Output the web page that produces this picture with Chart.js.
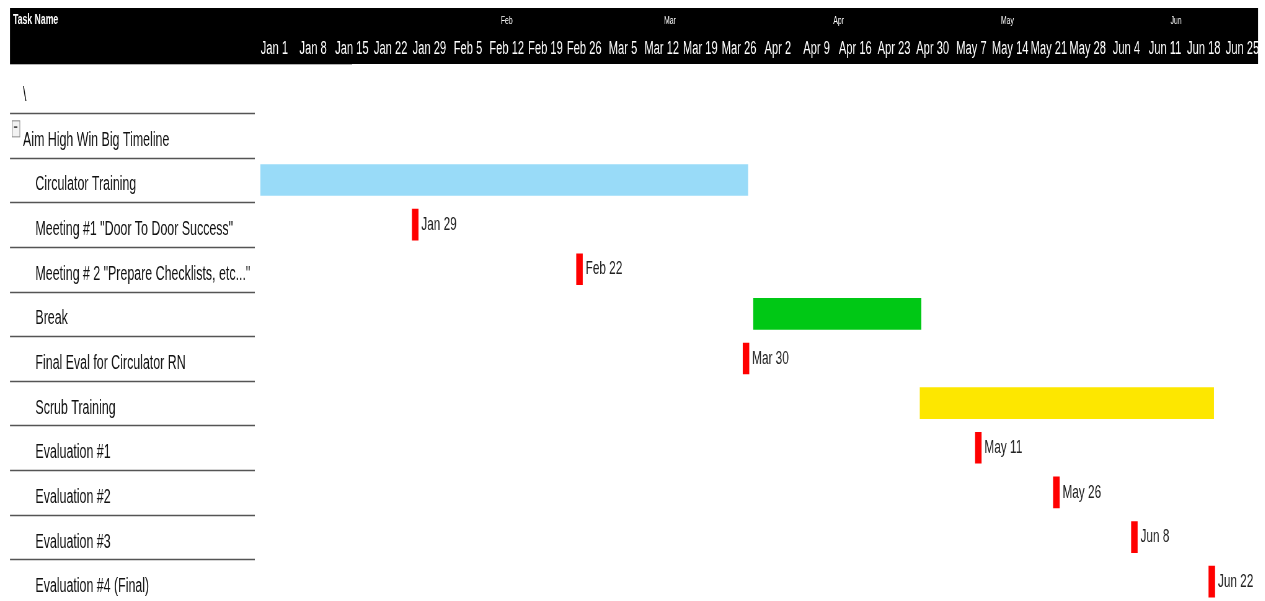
<!DOCTYPE html>
<html>
<head>
<meta charset="utf-8">
<title>Aim High Win Big Timeline</title>
<script src="https://cdn.jsdelivr.net/npm/chart.js@4.4.1/dist/chart.umd.min.js"></script>
<style>
  html, body { margin: 0; padding: 0; background: #fff; overflow: hidden; }
  /* the source picture is squeezed sideways, so draw wide and compress */
  #gantt { display: block; transform: scaleX(0.62); transform-origin: 0 0; }
</style>
</head>
<body>
<canvas id="gantt" width="2041" height="619"></canvas>
<script>
// rows of the task list, top to bottom
const taskNames = [
  "\\",
  "Aim High Win Big Timeline",
  "Circulator Training",
  "Meeting #1 \"Door To Door Success\"",
  "Meeting # 2 \"Prepare Checklists, etc...\"",
  "Break",
  "Final Eval for Circulator RN",
  "Scrub Training",
  "Evaluation #1",
  "Evaluation #2",
  "Evaluation #3",
  "Evaluation #4 (Final)"
];

// header ticks
const weekLabels = ["Jan 1", "Jan 8", "Jan 15", "Jan 22", "Jan 29", "Feb 5", "Feb 12", "Feb 19", "Feb 26",
  "Mar 5", "Mar 12", "Mar 19", "Mar 26", "Apr 2", "Apr 9", "Apr 16", "Apr 23", "Apr 30",
  "May 7", "May 14", "May 21", "May 28", "Jun 4", "Jun 11", "Jun 18", "Jun 25"];
const monthLabels = ["Feb", "Mar", "Apr", "May", "Jun"];
const monthStartDays = [31, 59, 90, 120, 151, 181]; // days since Jan 1

// duration bars, days since Jan 1
const phaseTasks = ["Circulator Training", "Break", "Scrub Training"];
const phaseStart = [0.5, 89.6, 119.7];
const phaseEnd = [88.6, 119.9, 172.8];

// milestones, days since Jan 1 (as placed in the picture)
const milestoneTasks = [
  "Meeting #1 \"Door To Door Success\"",
  "Meeting # 2 \"Prepare Checklists, etc...\"",
  "Final Eval for Circulator RN",
  "Evaluation #1",
  "Evaluation #2",
  "Evaluation #3",
  "Evaluation #4 (Final)"
];
const milestoneDays = [29, 58.7, 88.8, 130.8, 144.9, 159, 173];
const milestoneLabels = ["Jan 29", "Feb 22", "Mar 30", "May 11", "May 26", "Jun 8", "Jun 22"];

const FONT = "'Liberation Sans', Arial, sans-serif";
const phaseColors = {
  "Circulator Training": "#99dbf8",
  "Break": "#00c815",
  "Scrub Training": "#fde700"
};
const MILESTONE_COLOR = "#ff0000";
const MILESTONE_W = 1.1;
const X_MAX = 180.8;

const barData = taskNames.map((name) => {
  const p = phaseTasks.indexOf(name);
  if (p >= 0) return [phaseStart[p], phaseEnd[p]];
  const m = milestoneTasks.indexOf(name);
  if (m >= 0) return [milestoneDays[m] - MILESTONE_W, milestoneDays[m]];
  return null;
});
const barColors = taskNames.map((name) => phaseColors[name] || MILESTONE_COLOR);

// header band, task list lines, milestone captions
const ganttDecor = {
  id: "ganttDecor",
  beforeDraw(chart) {
    const { ctx, scales } = chart;
    const y = scales.y;
    ctx.save();
    ctx.fillStyle = "#fff";
    ctx.fillRect(0, 0, chart.width, chart.height);
    ctx.fillStyle = "#000";
    ctx.fillRect(16.1, 8, 2013, 56);
    ctx.fillStyle = "#fff";
    ctx.font = "bold 14px " + FONT;
    ctx.textBaseline = "middle";
    ctx.fillText("Task Name", 21, 20);

    ctx.strokeStyle = "#b0b0b0";
    ctx.lineWidth = 1;
    ctx.beginPath();
    ctx.moveTo(16.1, 64.5);
    ctx.lineTo(568, 64.5);
    ctx.stroke();

    ctx.strokeStyle = "#555";
    ctx.lineWidth = 1.5;
    for (let i = 1; i <= taskNames.length; i++) {
      const yy = Math.round((y.getPixelForValue(i - 1) + y.getPixelForValue(i)) / 2) + 0.5;
      ctx.beginPath();
      ctx.moveTo(16.1, yy);
      ctx.lineTo(411, yy);
      ctx.stroke();
    }

    // collapse box beside the parent row
    const py = y.getPixelForValue(1);
    ctx.fillStyle = "#f2f2f2";
    ctx.strokeStyle = "#888";
    ctx.lineWidth = 1;
    ctx.fillRect(19.5, py - 15, 12.5, 16);
    ctx.strokeRect(19.5, py - 14.5, 12.5, 16);
    ctx.fillStyle = "#333";
    ctx.fillRect(22.5, py - 9, 5.5, 1.5);
    ctx.restore();
  },
  afterDatasetsDraw(chart) {
    const { ctx, scales } = chart;
    ctx.save();
    ctx.font = "19px " + FONT;
    ctx.fillStyle = "#222";
    ctx.textBaseline = "middle";
    milestoneTasks.forEach((name, i) => {
      const x = scales.x.getPixelForValue(milestoneDays[i]) + 5;
      const yy = scales.y.getPixelForValue(taskNames.indexOf(name));
      ctx.fillText(milestoneLabels[i], x, yy);
    });
    ctx.restore();
  }
};

new Chart(document.getElementById("gantt"), {
  type: "bar",
  data: {
    labels: taskNames,
    datasets: [{
      data: barData,
      backgroundColor: barColors,
      borderWidth: 0,
      barThickness: 31
    }]
  },
  options: {
    indexAxis: "y",
    responsive: false,
    animation: false,
    layout: { padding: { left: 37.1, top: 8, right: 12, bottom: 3 } },
    plugins: {
      legend: { display: false },
      tooltip: { enabled: false }
    },
    scales: {
      x: {
        type: "linear",
        position: "top",
        min: 0,
        max: X_MAX,
        bounds: "data",
        weight: 0,
        grid: { display: false, drawTicks: false },
        border: { display: false },
        afterBuildTicks: (s) => { s.ticks = weekLabels.map((_, i) => ({ value: i * 7 + 3 })); },
        afterFit: (s) => { s.height = 34.4; },
        ticks: {
          color: "#fff",
          font: { family: FONT, size: 18 },
          padding: 8.7,
          maxRotation: 0,
          autoSkip: false,
          callback: (v, i) => weekLabels[i]
        }
      },
      x2: {
        type: "linear",
        position: "top",
        min: 0,
        max: X_MAX,
        bounds: "data",
        weight: 1,
        grid: { display: false, drawTicks: false },
        border: { display: false },
        afterBuildTicks: (s) => {
          s.ticks = monthLabels.map((_, i) => ({ value: (monthStartDays[i] + monthStartDays[i + 1]) / 2 }));
        },
        afterFit: (s) => { s.height = 26; },
        ticks: {
          color: "#fff",
          font: { family: FONT, size: 11 },
          padding: 6.4,
          maxRotation: 0,
          autoSkip: false,
          callback: (v, i) => monthLabels[i]
        }
      },
      y: {
        type: "category",
        offset: true,
        grid: { display: false, drawTicks: false },
        border: { display: false },
        afterFit: (s) => { s.width = 378.7; },
        ticks: {
          color: "#111",
          font: { family: FONT, size: 20 },
          crossAlign: "far",
          labelOffset: 5,
          autoSkip: false,
          callback: (v, i) => (i >= 2 ? "\u2003" : "") + taskNames[i]
        }
      }
    }
  },
  plugins: [ganttDecor]
});
</script>
</body>
</html>
